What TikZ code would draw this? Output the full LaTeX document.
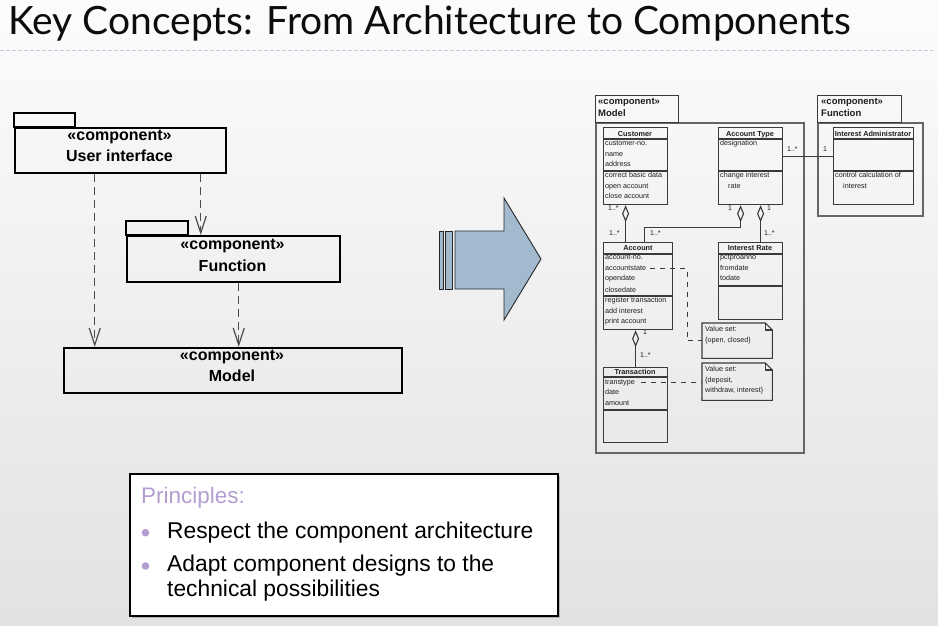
\documentclass[tikz,border=0pt]{standalone}
\usepackage{fontspec}
\setmainfont{Liberation Sans}
\newfontfamily\titlefont{Lato}
\usetikzlibrary{arrows.meta,calc}

\definecolor{bgtop}{HTML}{FCFCFC}
\definecolor{bgbot}{HTML}{E2E2E2}
\definecolor{rulecol}{HTML}{B9CCDD}
\definecolor{arrowfill}{HTML}{A3B9CE}
\definecolor{lilac}{HTML}{B49DD0}
\definecolor{umlline}{HTML}{3A3A3A}
\definecolor{umltext}{HTML}{1E1E1E}

\tikzset{
  comp/.style={draw=black, line width=1.5pt, inner sep=0pt, anchor=north west},
  complbl/.style={anchor=base, inner sep=0pt, font=\bfseries\fontsize{16}{18}\selectfont},
  dep/.style={draw=black!70, line width=1.2pt, dash pattern=on 8pt off 5pt,
    -{Straight Barb[length=17pt,width=11pt,line width=1.2pt]}},
  bigarrow/.style={draw=black!85, line width=0.9pt, fill=arrowfill},
  pkghead/.style={draw=umlline, line width=1.3pt, inner sep=0pt, anchor=north west},
  pkgbody/.style={draw=black!60, line width=1.6pt, inner sep=0pt, anchor=north west},
  pkglbl/.style={anchor=base west, inner sep=0pt, font=\bfseries\fontsize{9.5}{10}\selectfont, text=umltext},
  cls/.style={draw=umlline, line width=1.2pt, inner sep=0pt, anchor=north west},
  clsline/.style={draw=umlline, line width=1.2pt},
  cname/.style={anchor=base, inner sep=0pt, font=\bfseries\fontsize{7.3}{8}\selectfont, text=umltext},
  ctext/.style={anchor=base west, inner sep=0pt, font=\fontsize{7.2}{8}\selectfont, text=umltext},
  mult/.style={anchor=base west, inner sep=0pt, font=\fontsize{7}{7}\selectfont, text=umltext},
  assoc/.style={draw=umlline, line width=1.3pt},
  aggr/.style={assoc, {Diamond[open,length=17pt,width=7pt,line width=1.1pt]}-},
  notebox/.style={inner sep=0pt, anchor=north west},
  noteline/.style={draw=umlline, line width=1.1pt},
  notelink/.style={draw=umlline, line width=1pt, dash pattern=on 5pt off 5pt},
  ptitle/.style={anchor=base west, inner sep=0pt, font=\fontsize{22.5}{24}\selectfont, text=lilac},
  ptext/.style={anchor=base west, inner sep=0pt, font=\fontsize{22.8}{24}\selectfont, text=black},
}

% class box with name, attribute and operation compartments
\newcommand{\umlclass}[7]{%
  \node[cls, minimum width=#4pt, minimum height=#5pt] (#1) at (#2,#3) {};
  \draw[clsline] ($(#1.north west)+(0,#6)$) -- ($(#1.north east)+(0,#6)$);
  \draw[clsline] ($(#1.north west)+(0,#7)$) -- ($(#1.north east)+(0,#7)$);
}
% note box with a folded corner
\newcommand{\umlnote}[5]{%
  \node[notebox, minimum width=#4pt, minimum height=#5pt] (#1) at (#2,#3) {};
  \draw[noteline] (#1.north west) -- ($(#1.north east)+(-7,0)$) -- ($(#1.north east)+(0,7)$)
    -- (#1.south east) -- (#1.south west) -- cycle;
  \draw[noteline] ($(#1.north east)+(-7,0)$) |- ($(#1.north east)+(0,7)$);
}

\begin{document}
\begin{tikzpicture}[x=1pt,y=-1pt]
\useasboundingbox (0,0) rectangle (938,626);
\fill[top color=bgtop, bottom color=bgbot] (0,0) rectangle (938,626);

% heading
\node[anchor=base west, inner sep=0pt, font=\titlefont\fontsize{39}{42}\selectfont, text=black!95]
  (title) at (8,35) {Key Concepts: From Architecture to Components};
\draw[rulecol, line width=0.8pt, dash pattern=on 4pt off 2pt] (0,50) -- (933,50);

% ---------- component architecture ----------
\node[comp, minimum width=211pt, minimum height=45pt] (ui) at (14,127) {};
\draw[line width=1.5pt] (ui.north west) rectangle ++(61,-14);
\node[complbl] (ui-st) at (119.5,140.7) {«component»};
\node[complbl] (ui-nm) at (119.5,161.7) {User interface};

\node[comp, minimum width=213pt, minimum height=46pt] (fn) at (126,235) {};
\draw[line width=1.5pt] (fn.north west) rectangle ++(62,-14);
\node[complbl] (fn-st) at (232.5,249) {«component»};
\node[complbl] (fn-nm) at (232.5,271) {Function};

\node[comp, minimum width=338pt, minimum height=45pt] (model) at (63,347) {};
\node[complbl] (model-st) at (232,360) {«component»};
\node[complbl] (model-nm) at (232,381) {Model};

\draw[dep] ([xshift=-25.5pt]ui.south) -- ([xshift=-25.5pt]ui.south |- model.north);
\draw[dep] ([xshift=80.5pt]ui.south) -- ([xshift=80.5pt]ui.south |- fn.north);
\draw[dep] ([xshift=5.5pt]fn.south) -- ([xshift=5.5pt]fn.south |- model.north);

% ---------- block arrow ----------
\draw[bigarrow] (439.3,231) rectangle (443.3,289);
\draw[bigarrow] (445.7,231) rectangle (452.3,289);
\draw[bigarrow] (455,231) -- (504,231) -- (504,198) -- (541,259) -- (504,320) -- (504,289) -- (455,289) -- cycle;

% ---------- component design ----------
\node[pkgbody, minimum width=208pt, minimum height=330pt] (mbody) at (595,122) {};
\node[pkghead, minimum width=83pt, minimum height=27pt] (mhead) at (595,95) {};
\node[pkglbl] (mhead-st) at (598,104) {«component»};
\node[pkglbl] (mhead-nm) at (598,116.7) {Model};

\node[pkgbody, minimum width=105pt, minimum height=93pt] (fbody) at (817,122) {};
\node[pkghead, minimum width=84pt, minimum height=27pt] (fhead) at (817,95) {};
\node[pkglbl] (fhead-st) at (821,104) {«component»};
\node[pkglbl] (fhead-nm) at (821,116.7) {Function};

% Customer
\umlclass{cust}{603}{127}{64}{77}{12}{44}
\node[cname] (cust-n) at (635,136) {Customer};
\node[ctext] (cust-a1) at (605,146) {customer-no.};
\node[ctext] (cust-a2) at (605,156.7) {name};
\node[ctext] (cust-a3) at (605,166.7) {address};
\node[ctext] (cust-o1) at (605,177.7) {correct basic data};
\node[ctext] (cust-o2) at (605,188.3) {open account};
\node[ctext] (cust-o3) at (605,198.7) {close account};

% Account Type
\umlclass{atype}{718}{127}{64}{77}{12}{44}
\node[cname] (atype-n) at (750,136) {Account Type};
\node[ctext] (atype-a1) at (720,146) {designation};
\node[ctext] (atype-o1) at (720,177.7) {change interest};
\node[ctext] (atype-o2) at (728,188.3) {rate};

% Interest Administrator
\umlclass{iadm}{833}{127}{80}{77}{12}{44}
\node[cname] (iadm-n) at (873,136) {Interest Administrator};
\node[ctext] (iadm-o1) at (835,177.7) {control calculation of};
\node[ctext] (iadm-o2) at (843,188.3) {interest};

% Account
\umlclass{acct}{603}{242}{69}{87}{12}{54}
\node[cname] (acct-n) at (638,250) {Account};
\node[ctext] (acct-a1) at (605,259.3) {account-no.};
\node[ctext] (acct-a2) at (605,270.7) {accountstate};
\node[ctext] (acct-a3) at (605,280.7) {opendate};
\node[ctext] (acct-a4) at (605,292.7) {closedate};
\node[ctext] (acct-o1) at (605,302.7) {register transaction};
\node[ctext] (acct-o2) at (605,313.3) {add interest};
\node[ctext] (acct-o3) at (605,323.3) {print account};

% Interest Rate
\umlclass{irate}{718}{242}{64}{77}{12}{44}
\node[cname] (irate-n) at (750,250) {Interest Rate};
\node[ctext] (irate-a1) at (720,259.3) {pctproanno};
\node[ctext] (irate-a2) at (720,270.7) {fromdate};
\node[ctext] (irate-a3) at (720,280.7) {todate};

% Transaction
\umlclass{trans}{603}{367}{64}{75}{10}{43}
\node[cname] (trans-n) at (635,374) {Transaction};
\node[ctext] (trans-a1) at (605,384.3) {transtype};
\node[ctext] (trans-a2) at (605,394.3) {date};
\node[ctext] (trans-a3) at (605,405) {amount};

% value set notes
\umlnote{note1}{702}{323}{70}{35}
\node[ctext] (note1-t1) at (705,331.7) {Value set:};
\node[ctext] (note1-t2) at (705,342.3) {\{open, closed\}};
\umlnote{note2}{702}{363}{70}{37}
\node[ctext] (note2-t1) at (705,371.7) {Value set:};
\node[ctext] (note2-t2) at (705,382.3) {\{deposit,};
\node[ctext] (note2-t3) at (705,392.3) {withdraw, interest\}};

% associations
\draw[aggr] ([xshift=-10pt]cust.south) -- ([xshift=-10pt]cust.south |- acct.north);
\draw[aggr] ([xshift=-10pt]atype.south) -- ++(0,22) -| ([xshift=6.5pt]acct.north);
\draw[aggr] ([xshift=10pt]atype.south) -- ([xshift=10pt]atype.south |- irate.north);
\draw[aggr] (trans.north |- acct.south) -- (trans.north);
\draw[assoc] ([yshift=9.5pt]atype.east) -- ([yshift=9.5pt]atype.east -| iadm.west);

% multiplicities
\node[mult] (m1) at (608,210.7) {1..*};
\node[mult] (m2) at (609,235) {1..*};
\node[mult] (m3) at (728,210.7) {1};
\node[mult] (m4) at (650,235) {1..*};
\node[mult] (m5) at (767,210.7) {1};
\node[mult] (m6) at (764,235) {1..*};
\node[mult] (m7) at (787,151.7) {1..*};
\node[mult] (m8) at (823,151.7) {1};
\node[mult] (m9) at (643,334) {1};
\node[mult] (m10) at (640,357.3) {1..*};

% note links
\coordinate (n1bend) at (687,268);
\draw[notelink] ([xshift=4pt]acct-a2.east) -| (n1bend |- note1.west) -- (note1.west);
\draw[notelink] ([xshift=6pt]trans-a1.east) -- (trans-a1.east -| note2.west);

% ---------- principles ----------
\fill[black!30] (131.5,475.5) rectangle (559.5,617.5);
\node[draw=black, line width=2.2pt, fill=white, inner sep=0pt, anchor=north west,
  minimum width=428pt, minimum height=142pt] (princ) at (129,473) {};
\node[ptitle] (p-head) at (141,503.3) {Principles:};
\fill[lilac] (145.5,532.7) circle (3.8);
\node[ptext] (p-1) at (167,538.7) {Respect the component architecture};
\fill[lilac] (145.5,566) circle (3.8);
\node[ptext] (p-2) at (167,571.7) {Adapt component designs to the};
\node[ptext] (p-3) at (167,596) {technical possibilities};
\end{tikzpicture}
\end{document}
